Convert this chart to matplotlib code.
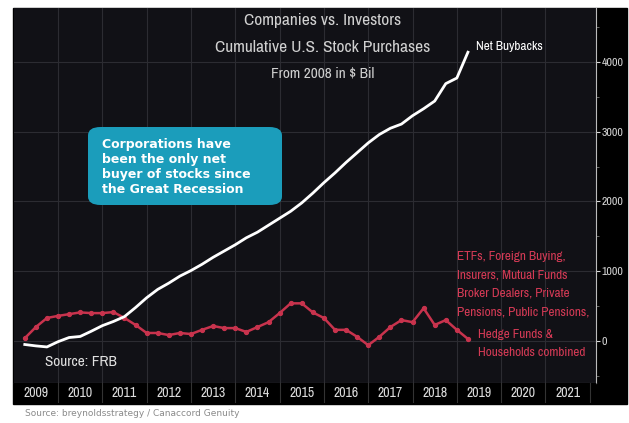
import matplotlib
matplotlib.use('Agg')
import matplotlib.pyplot as plt
from matplotlib.patches import Rectangle, FancyBboxPatch
import numpy as np

narrow = ['Archivo Narrow', 'DejaVu Sans']
plt.rcParams['font.family'] = narrow

# quarterly data, 2009Q1 .. 2019Q1 (plotted at quarter ends)
quarters = np.arange(2009.25, 2019.26, 0.25)
net_buybacks = [-50, -70, -85, -10, 50, 65, 140, 220, 280, 350,
                480, 620, 740, 830, 930, 1010, 1100, 1200, 1290, 1380,
                1480, 1560, 1660, 1760, 1860, 1980, 2120, 2270, 2410, 2560,
                2700, 2840, 2960, 3050, 3110, 3230, 3330, 3440, 3690, 3770,
                4140]
investors = [40, 200, 330, 360, 385, 410, 400, 400, 415, 330,
             230, 115, 115, 85, 115, 100, 160, 215, 185, 185,
             130, 200, 270, 400, 540, 540, 410, 330, 160, 160,
             60, -60, 60, 200, 300, 270, 470, 230, 300, 160,
             30]
years = list(range(2009, 2022))
yticks = [0, 1000, 2000, 3000, 4000]
title_lines = ['Companies vs. Investors', 'Cumulative U.S. Stock Purchases', 'From 2008 in $ Bil']
red_lines = ['ETFs, Foreign Buying,', 'Insurers, Mutual Funds', 'Broker Dealers, Private',
             'Pensions, Public Pensions,']
red_lines2 = ['Hedge Funds &', 'Households combined']

W, H = 629, 423
fig = plt.figure(figsize=(W / 100, H / 100), dpi=100, facecolor='white')

def fx(px):
    return px / W

def fy(py):
    return 1 - py / H

# black panel
fig.patches.append(Rectangle((fx(13), fy(404)), fx(627) - fx(13), fy(8) - fy(404),
                             transform=fig.transFigure, color='black', zorder=-5))

ax = fig.add_axes([fx(13.7), fy(383), fx(596) - fx(13.7), fy(8) - fy(383)])
ax.set_facecolor('#111116')
ax.set_xlim(2009, 2022.14)
ax.set_ylim(-602, 4774)

for yr in years[1:]:
    ax.axvline(yr, color='#2c2c32', lw=0.8, zorder=1)
for v in yticks:
    ax.axhline(v, color='#2c2c32', lw=0.8, zorder=1)

ax.plot(quarters, investors, color='#c8334d', lw=1.8, marker='o', ms=2.8, zorder=3)
ax.plot(quarters, net_buybacks, color='white', lw=2, zorder=4)

ax.yaxis.tick_right()
ax.set_yticks(yticks)
ax.set_yticklabels([str(v) for v in yticks])
ax.set_yticks([-500, 500, 1500, 2500, 3500, 4500], minor=True)
ax.tick_params(axis='y', which='major', colors='#d8d8d8', labelsize=8.5, length=3, pad=1)
ax.tick_params(axis='y', which='minor', colors='#777777', length=2)
ax.set_xticks([])
for s in ['left', 'top']:
    ax.spines[s].set_visible(False)
ax.spines['right'].set_color('#bbbbbb')
ax.spines['bottom'].set_color('#666666')

# year strip
axs = fig.add_axes([fx(13.7), fy(403), fx(596) - fx(13.7), fy(383) - fy(403)], sharex=ax)
axs.set_facecolor('black')
axs.set_ylim(0, 1)
for yr in years:
    axs.text(yr + 0.5, 0.48, str(yr), color='#dddddd', fontsize=10,
             ha='center', va='center')
for yr in years[1:] + [years[-1] + 1]:
    axs.axvline(yr, color='#333333', lw=0.8)
axs.set_xticks([])
axs.set_yticks([])
for s in axs.spines.values():
    s.set_visible(False)

# titles
for i, t in enumerate(title_lines):
    fig.text(fx(323), fy(20 + 27 * i), t, color='#d0d0d0',
             fontsize=12.5 if i < 2 else 11, ha='center', va='center')

fig.text(fx(476), fy(47), 'Net Buybacks', color='white', fontsize=9.5, ha='left', va='center')

# callout box
box = FancyBboxPatch((fx(88), fy(205)), fx(282) - fx(88), fy(127) - fy(205),
                     boxstyle='round,pad=0,rounding_size=0.02', transform=fig.transFigure,
                     facecolor='#1b9dbb', edgecolor='none', zorder=5)
fig.patches.append(box)
fig.text(fx(102), fy(167), 'Corporations have\nbeen the only net\nbuyer of stocks since\nthe Great Recession',
         color='white', fontsize=9, fontweight='bold', family=['DejaVu Sans'],
         ha='left', va='center', linespacing=1.2, zorder=6)

for i, t in enumerate(red_lines):
    fig.text(fx(457), fy(256 + 18.7 * i), t, color='#d43a55', fontsize=9.5, ha='left', va='center')
for i, t in enumerate(red_lines2):
    fig.text(fx(478), fy(334 + 18.5 * i), t, color='#d43a55', fontsize=9.5, ha='left', va='center')

fig.text(fx(45), fy(362), 'Source: FRB', color='#e0e0e0', fontsize=11, ha='left', va='center')

fig.text(fx(25), fy(413), 'Source: breynoldsstrategy / Canaccord Genuity', color='#8a8a8a',
         fontsize=6.5, family=['DejaVu Sans'], ha='left', va='center')

fig.savefig('out.png', dpi=100, facecolor='white')
